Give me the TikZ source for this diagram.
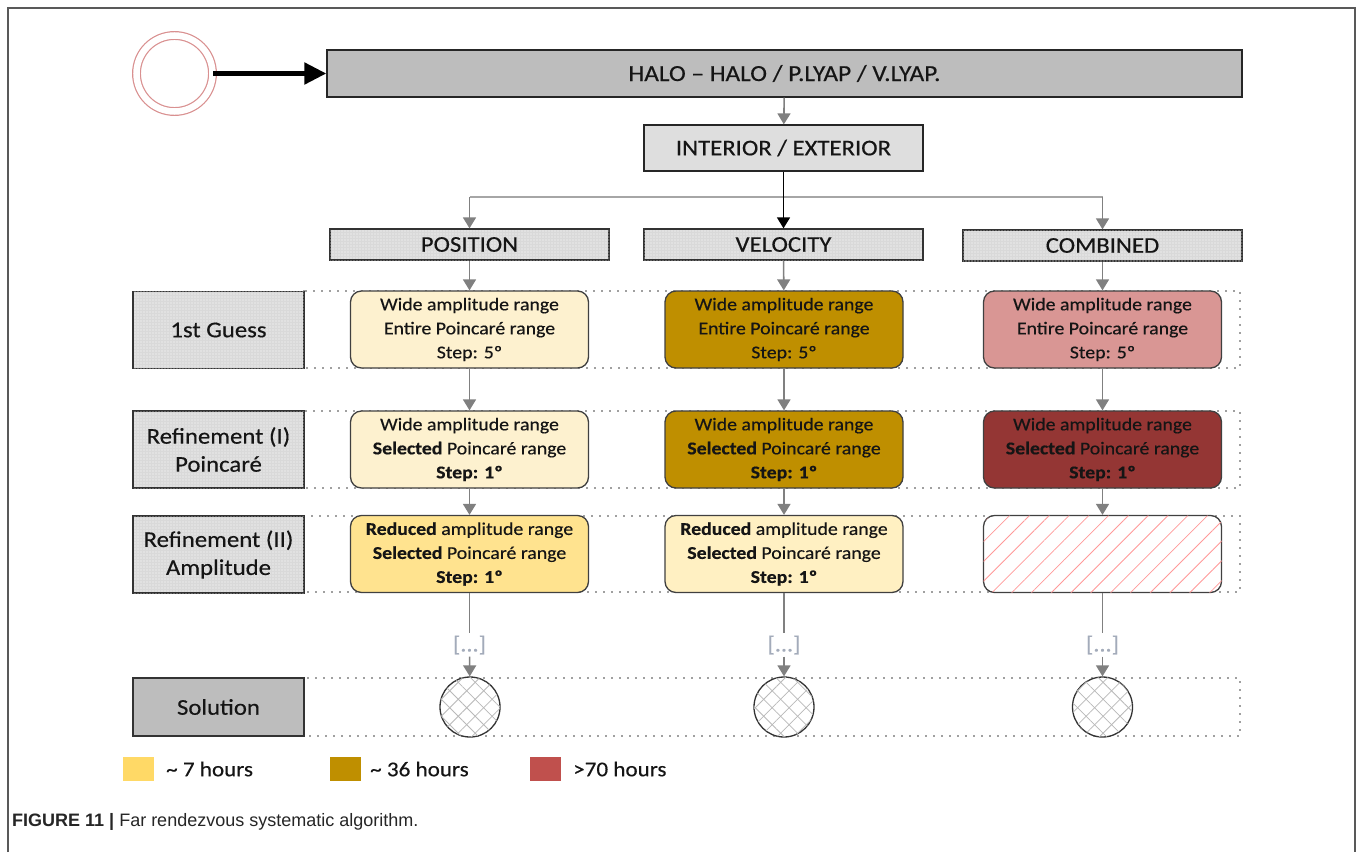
\documentclass[tikz,border=0pt]{standalone}
\usepackage{fontspec}
\setmainfont{Carlito}[FakeStretch=1.1, FakeBold=0.4]
\newfontfamily\capfont{Liberation Sans}
\usetikzlibrary{arrows.meta,patterns.meta}
\definecolor{cream}{HTML}{FDF1CF}
\definecolor{goldc}{HTML}{BF8F00}
\definecolor{pinkc}{HTML}{D99694}
\definecolor{dred}{HTML}{943634}
\definecolor{yelc}{HTML}{FFE38F}
\definecolor{lyel}{HTML}{FFF0C2}
\definecolor{legy}{HTML}{FFD966}
\definecolor{legr}{HTML}{C0504D}
\definecolor{hgray}{HTML}{BDBDBD}
\definecolor{igray}{HTML}{DEDEDE}
\definecolor{dotc}{HTML}{A3ABBA}
\definecolor{arrg}{HTML}{808080}
\definecolor{ringc}{HTML}{D99090}
\definecolor{txt}{HTML}{151515}
\tikzset{
  conn/.style={draw=arrg, line width=1.6pt, -{Triangle[length=11pt,width=13pt]}},
  plainconn/.style={draw=arrg, line width=1.6pt},
  cell/.style={draw=black!75, line width=1.3pt, rounded corners=11pt, minimum width=238pt,
    minimum height=77pt, inner sep=0pt, align=center, text=txt,
    font=\fontsize{18}{24}\selectfont},
  dotfill/.style={fill=gray!30, postaction={pattern={Dots[radius=0.6pt,distance=3pt]}, pattern color=white}},
  lbl/.style={draw=black!80, line width=1.3pt, minimum width=171pt, minimum height=77pt,
    inner sep=0pt, align=center, text=txt, font=\fontsize{22.5}{28}\selectfont},
  hdr/.style={draw=black!80, line width=1.3pt, minimum width=279pt, minimum height=31pt,
    inner sep=0pt, text=txt, font=\fontsize{22.5}{26}\selectfont},
  band/.style={draw=black!75, line width=1.8pt, line cap=round, dash pattern=on 0pt off 8pt},
  sol/.style={circle, draw=black!80, line width=1.3pt, minimum size=60pt, inner sep=0pt, fill=white,
    postaction={pattern={Lines[angle=45,distance=12pt,line width=0.8pt]}, pattern color=gray!55},
    postaction={pattern={Lines[angle=-45,distance=12pt,line width=0.8pt]}, pattern color=gray!55}},
  ell/.style={text=dotc, inner sep=2pt, font=\fontsize{22}{24}\selectfont},
  legbox/.style={minimum width=31pt, minimum height=24pt, inner sep=0pt},
  legtxt/.style={anchor=west, inner sep=0pt, text=txt, font=\fontsize{21}{24}\selectfont},
}
\begin{document}
\begin{tikzpicture}[x=1pt,y=-1pt]
\useasboundingbox (0,0) rectangle (1357,852);
\fill[white] (0,0) rectangle (1357,852);
% outer frame
\draw[black!65, line width=1.5pt] (8,852) -- (8,8) -- (1355,8) -- (1355,852);

% dotted bands
\draw[band] (304,291) rectangle (1240,368);
\draw[band] (304,411) rectangle (1240,488);
\draw[band] (304,516) rectangle (1240,592);
\draw[band] (304,678) rectangle (1240,736);

% start
\node[circle, draw=ringc, line width=1.2pt, double=white, double distance=6.5pt, minimum size=76pt, inner sep=0pt] (start) at (174.5,73.5) {};
\node[draw=black!85, line width=1.3pt, fill=hgray, minimum width=915pt, minimum height=47pt, inner sep=0pt,
  text=txt, font=\fontsize{23}{26}\selectfont] (top) at (784.5,73.5) {HALO – HALO / P.LYAP / V.LYAP.};
\draw[line width=5pt, black, -{Triangle[length=22pt,width=21pt]}] (start.east) -- (top.west);

\node[draw=black!85, line width=1.3pt, fill=igray, minimum width=279pt, minimum height=46pt, inner sep=0pt,
  text=txt, font=\fontsize{22.5}{26}\selectfont] (int) at (783.5,148) {INTERIOR / EXTERIOR};
\draw[conn] (top) -- (int);

% headers
\node[hdr, dotfill] (hpos) at (469.5,244.5) {POSITION};
\node[hdr, dotfill] (hvel) at (783.5,244.5) {VELOCITY};
\node[hdr, dotfill] (hcom) at (1102.5,245.5) {COMBINED};
\coordinate (jL) at (469.5,197);
\coordinate (jR) at (1102.5,197);
\draw[plainconn, draw=gray!70] (jL) -- (jR);
\draw[conn] (jL) -- (hpos);
\draw[conn] (jR) -- (hcom);
\draw[line width=1.6pt, black, -{Triangle[length=11pt,width=13pt]}] (int) -- (hvel);

% row labels
\node[lbl, dotfill] (l1) at (218.5,330) {1st Guess};
\node[lbl, dotfill] (l2) at (218.5,449.5) {Refinement (I)\\Poincaré};
\node[lbl, dotfill] (l3) at (218.5,554.5) {Refinement (II)\\Amplitude};
\node[lbl, fill=hgray, minimum height=58pt] (l4) at (218.5,707) {Solution};

% cells
\node[cell, fill=cream] (a1) at (469.5,329.5) {Wide amplitude range\\Entire Poincaré range\\Step: 5º};
\node[cell, fill=goldc] (b1) at (784,329.5) {Wide amplitude range\\Entire Poincaré range\\Step: 5º};
\node[cell, fill=pinkc] (c1) at (1102.5,329.5) {Wide amplitude range\\Entire Poincaré range\\Step: 5º};

\node[cell, fill=cream] (a2) at (469.5,449.5) {Wide amplitude range\\\textbf{Selected} Poincaré range\\\textbf{Step: 1º}};
\node[cell, fill=goldc] (b2) at (784,449.5) {Wide amplitude range\\\textbf{Selected} Poincaré range\\\textbf{Step: 1º}};
\node[cell, fill=dred] (c2) at (1102.5,449.5) {Wide amplitude range\\\textbf{Selected} Poincaré range\\\textbf{Step: 1º}};

\node[cell, fill=yelc] (a3) at (469.5,554) {\textbf{Reduced} amplitude range\\\textbf{Selected} Poincaré range\\\textbf{Step: 1º}};
\node[cell, fill=lyel] (b3) at (784,554) {\textbf{Reduced} amplitude range\\\textbf{Selected} Poincaré range\\\textbf{Step: 1º}};
\node[cell, fill=white, postaction={pattern={Lines[angle=45,distance=14pt,line width=0.8pt]}, pattern color=red!40}] (c3) at (1102.5,554) {};

% ellipses and solutions
\node[ell] (ea) at (469.5,645) {[...]};
\node[ell] (eb) at (784,645) {[...]};
\node[ell] (ec) at (1102.5,645) {[...]};
\node[sol] (sa) at (470,707) {};
\node[sol] (sb) at (784,707) {};
\node[sol] (sc) at (1102.5,707) {};

% connectors
\draw[conn] (hpos) -- (a1);
\draw[conn] (hvel) -- (b1);
\draw[conn] (hcom) -- (c1);
\draw[conn] (a1) -- (a2);
\draw[conn] (b1) -- (b2);
\draw[conn] (c1) -- (c2);
\draw[conn] (a2) -- (a3);
\draw[conn] (b2) -- (b3);
\draw[conn] (c2) -- (c3);
\draw[plainconn] (a3) -- (ea);
\draw[plainconn] (b3) -- (eb);
\draw[plainconn] (c3) -- (ec);
\draw[conn] (ea) -- (sa);
\draw[conn] (eb) -- (sb);
\draw[conn] (ec) -- (sc);

% legend
\node[legbox, fill=legy] (k1) at (138,769) {};
\node[legtxt] (t1) at (166,769) {\textasciitilde{} 7 hours};
\node[legbox, fill=goldc] (k2) at (345,769) {};
\node[legtxt] (t2) at (370,769) {\textasciitilde{} 36 hours};
\node[legbox, fill=legr] (k3) at (545,769) {};
\node[legtxt] (t3) at (573,769) {>70 hours};

% caption
\node[anchor=west, inner sep=0pt, text=black!85, font=\capfont\fontsize{18}{20}\selectfont] (cap) at (12,822)
  {\textbf{FIGURE 11 |} Far rendezvous systematic algorithm.};
\end{tikzpicture}
\end{document}
